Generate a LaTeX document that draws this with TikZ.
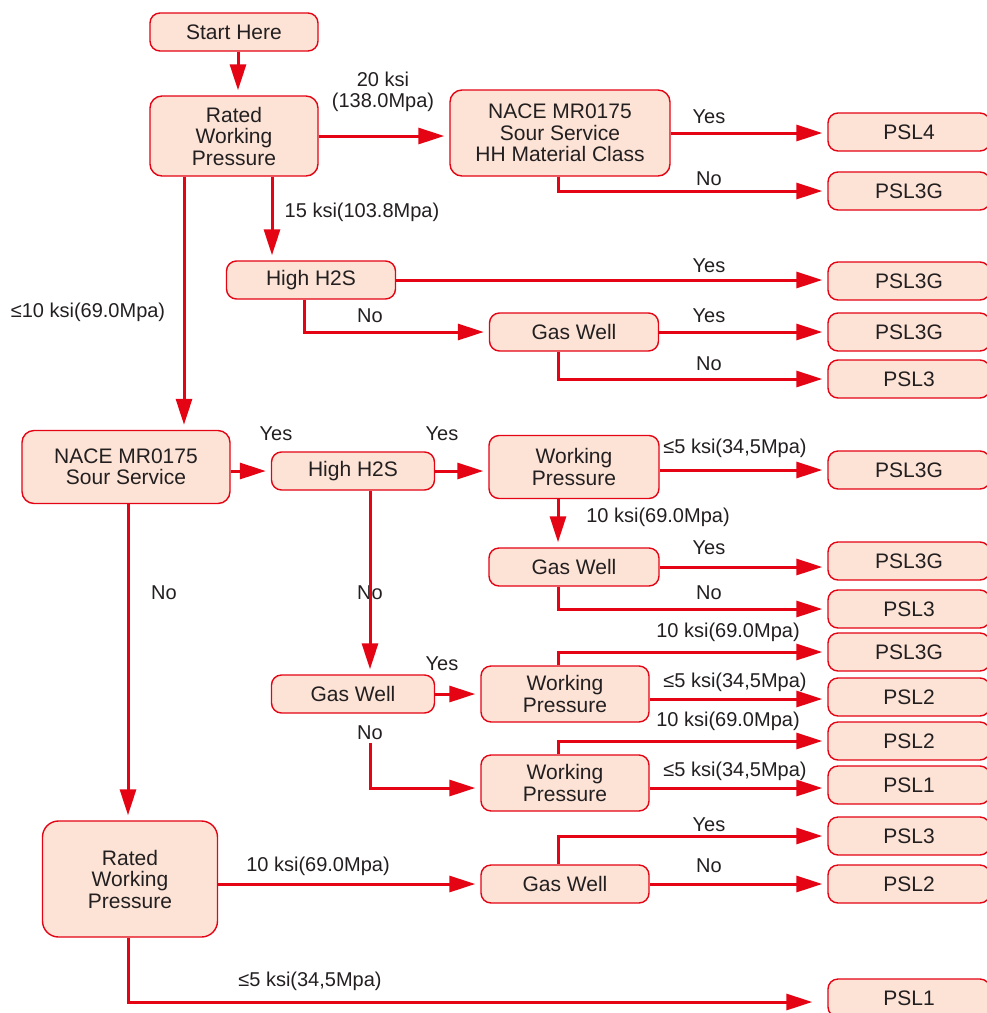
\documentclass[tikz,border=0pt]{standalone}
\usepackage{fontspec}
\setmainfont{Liberation Sans}
\usetikzlibrary{arrows.meta, positioning}

\definecolor{flowred}{RGB}{228,4,20}
\definecolor{boxfill}{RGB}{252,227,214}
\definecolor{inkgray}{RGB}{35,31,32}

\begin{document}
\begin{tikzpicture}[
  x=1pt, y=-1pt,
  font=\fontsize{20}{21.5}\selectfont,
  box/.style={rectangle, rounded corners=10pt, draw=flowred, line width=1.4pt, fill=boxfill, align=center, text=inkgray, inner sep=0pt, font=\fontsize{21}{21.5}\selectfont},
  pslbox/.style={box, minimum width=162pt, minimum height=38pt},
  smallbox/.style={box, minimum height=38pt},
  arr/.style={-{Triangle[length=26pt, width=16pt]}, line width=3pt, draw=flowred, shorten >=5pt},
  labeltext/.style={text=inkgray, inner sep=0pt, align=center}
]
\useasboundingbox (0,0) rectangle (987,1013);
\clip (0,0) rectangle (987,1013);

% columns of the vertical connectors
\coordinate (colS) at (238,0);
\coordinate (colA) at (184,0);
\coordinate (colB) at (272,0);
\coordinate (colC) at (304,0);
\coordinate (colD) at (370,0);
\coordinate (colE) at (558,0);
\coordinate (colF) at (128,0);

% upper branch
\node[smallbox, minimum width=168pt] (start) at (234,32) {Start Here};
\node[box, minimum width=168pt, minimum height=80pt, rounded corners=12pt] (rwpA) at (234,136) {Rated\\Working\\Pressure};
\node[box, minimum width=220pt, minimum height=86pt, rounded corners=12pt] (naceA) at (560,133) {NACE MR0175\\Sour Service\\HH Material Class};
\node[pslbox] (psl4) at (909,132) {PSL4};
\node[pslbox] (pslA) at (909,191) {PSL3G};
\node[smallbox, minimum width=169pt] (htsA) at (311,280) {High H2S};
\node[pslbox] (pslB) at (909,281) {PSL3G};
\node[smallbox, minimum width=169pt] (gasA) at (574,332) {Gas Well};
\node[pslbox] (pslC) at (909,332) {PSL3G};
\node[pslbox] (pslD) at (909,379) {PSL3};

% sour service branch
\node[box, minimum width=208pt, minimum height=73pt, rounded corners=12pt] (naceB) at (126,467) {NACE MR0175\\Sour Service};
\node[smallbox, minimum width=163pt] (htsB) at (353,471) {High H2S};
\node[box, minimum width=170pt, minimum height=63pt] (wpA) at (574,467) {Working\\Pressure};
\node[pslbox] (pslE) at (909,470) {PSL3G};
\node[smallbox, minimum width=170pt] (gasB) at (574,567) {Gas Well};
\node[pslbox] (pslF) at (909,561) {PSL3G};
\node[pslbox] (pslG) at (909,609) {PSL3};
\node[pslbox] (pslH) at (909,652) {PSL3G};
\node[smallbox, minimum width=163pt] (gasC) at (353,694) {Gas Well};
\node[box, minimum width=168pt, minimum height=56pt] (wpB) at (565,694) {Working\\Pressure};
\node[pslbox] (pslI) at (909,697) {PSL2};
\node[pslbox] (pslJ) at (909,741) {PSL2};
\node[box, minimum width=168pt, minimum height=56pt] (wpC) at (565,783) {Working\\Pressure};
\node[pslbox] (pslK) at (909,785) {PSL1};

% non sour branch
\node[box, minimum width=175pt, minimum height=116pt, rounded corners=16pt] (rwpB) at (130,879) {Rated\\Working\\Pressure};
\node[smallbox, minimum width=168pt] (gasD) at (565,884) {Gas Well};
\node[pslbox] (pslL) at (909,836) {PSL3};
\node[pslbox] (pslM) at (909,884) {PSL2};
\node[pslbox] (pslN) at (909,998) {PSL1};

% labels
\node[labeltext] (lbTwenty) at (383,92) {20 ksi\\(138.0Mpa)};
\node[labeltext] (lbHHyes) at (709,117) {Yes};
\node[labeltext] (lbHHno) at (709,179) {No};
\node[labeltext] (lbFifteen) at (362,212) {15 ksi(103.8Mpa)};
\node[labeltext] (lbTen) at (88,312) {≤10 ksi(69.0Mpa)};
\node[labeltext] (lbHtsAyes) at (709,266) {Yes};
\node[labeltext] (lbHtsAno) at (370,316) {No};
\node[labeltext] (lbGasAyes) at (709,316) {Yes};
\node[labeltext] (lbGasAno) at (709,364) {No};
\node[labeltext] (lbNaceByes) at (276,434) {Yes};
\node[labeltext] (lbHtsByes) at (442,434) {Yes};
\node[labeltext] (lbWpAlow) at (735,448) {≤5 ksi(34,5Mpa)};
\node[labeltext] (lbWpAhigh) at (658,517) {10 ksi(69.0Mpa)};
\node[labeltext] (lbGasByes) at (709,548) {Yes};
\node[labeltext] (lbGasBno) at (709,593) {No};
\node[labeltext] (lbNaceBno) at (164,593) {No};
\node[labeltext] (lbHtsBno) at (370,593) {No};
\node[labeltext] (lbWpBhigh) at (728,632) {10 ksi(69.0Mpa)};
\node[labeltext] (lbGasCyes) at (442,664) {Yes};
\node[labeltext] (lbWpBlow) at (735,682) {≤5 ksi(34,5Mpa)};
\node[labeltext] (lbGasCno) at (370,733) {No};
\node[labeltext] (lbWpChigh) at (728,721) {10 ksi(69.0Mpa)};
\node[labeltext] (lbWpClow) at (735,771) {≤5 ksi(34,5Mpa)};
\node[labeltext] (lbGasDyes) at (709,825) {Yes};
\node[labeltext] (lbGasDno) at (709,866) {No};
\node[labeltext] (lbRwpBhigh) at (318,866) {10 ksi(69.0Mpa)};
\node[labeltext] (lbRwpBlow) at (310,981) {≤5 ksi(34,5Mpa)};

% connectors
\draw[arr] (start.south -| colS) -- (rwpA.north -| colS);
\draw[arr] (rwpA.east) -- (rwpA.east -| naceA.west);
\draw[arr] (naceA.east) -- (naceA.east -| psl4.west);
\draw[arr] (naceA.south -| colE) |- (pslA.west);
\draw[arr] (rwpA.south -| colB) -- (htsA.north -| colB);
\draw[arr] (rwpA.south -| colA) -- (naceB.north -| colA);
\draw[arr] (htsA.east) -- (htsA.east -| pslB.west);
\draw[arr] (htsA.south -| colC) |- (gasA.west);
\draw[arr] (gasA.east) -- (gasA.east -| pslC.west);
\draw[arr] (gasA.south -| colE) |- (pslD.west);

\draw[arr] (naceB.east |- htsB) -- (htsB.west);
\draw[arr] (htsB.east) -- (htsB.east -| wpA.west);
\draw[arr] (wpA.east |- pslE) -- (pslE.west);
\draw[arr] (wpA.south -| colE) -- (gasB.north -| colE);
\draw[arr] (gasB.east) -- (gasB.east -| pslF.west);
\draw[arr] (gasB.south -| colE) |- (pslG.west);
\draw[arr] (naceB.south -| colF) -- (rwpB.north -| colF);
\draw[arr] (htsB.south -| colD) -- (gasC.north -| colD);
\draw[arr] (gasC.east) -- (gasC.east -| wpB.west);
\draw[arr] ([yshift=-3pt]lbGasCno.south) |- ([yshift=-5pt]wpC.west);
\draw[arr] (wpB.north -| colE) |- (pslH.west);
\draw[arr] ([yshift=-5pt]wpB.east) -- ([yshift=-5pt]wpB.east -| pslI.west);
\draw[arr] (wpC.north -| colE) |- (pslJ.west);
\draw[arr] ([yshift=-5pt]wpC.east) -- ([yshift=-5pt]wpC.east -| pslK.west);

\draw[arr] (rwpB.east |- gasD) -- (gasD.west);
\draw[arr] (gasD.north -| colE) |- (pslL.west);
\draw[arr] (gasD.east) -- (pslM.west);
\draw[arr, shorten >=15pt] (rwpB.south -| colF) |- ([yshift=-4pt]pslN.west);

\end{tikzpicture}
\end{document}
